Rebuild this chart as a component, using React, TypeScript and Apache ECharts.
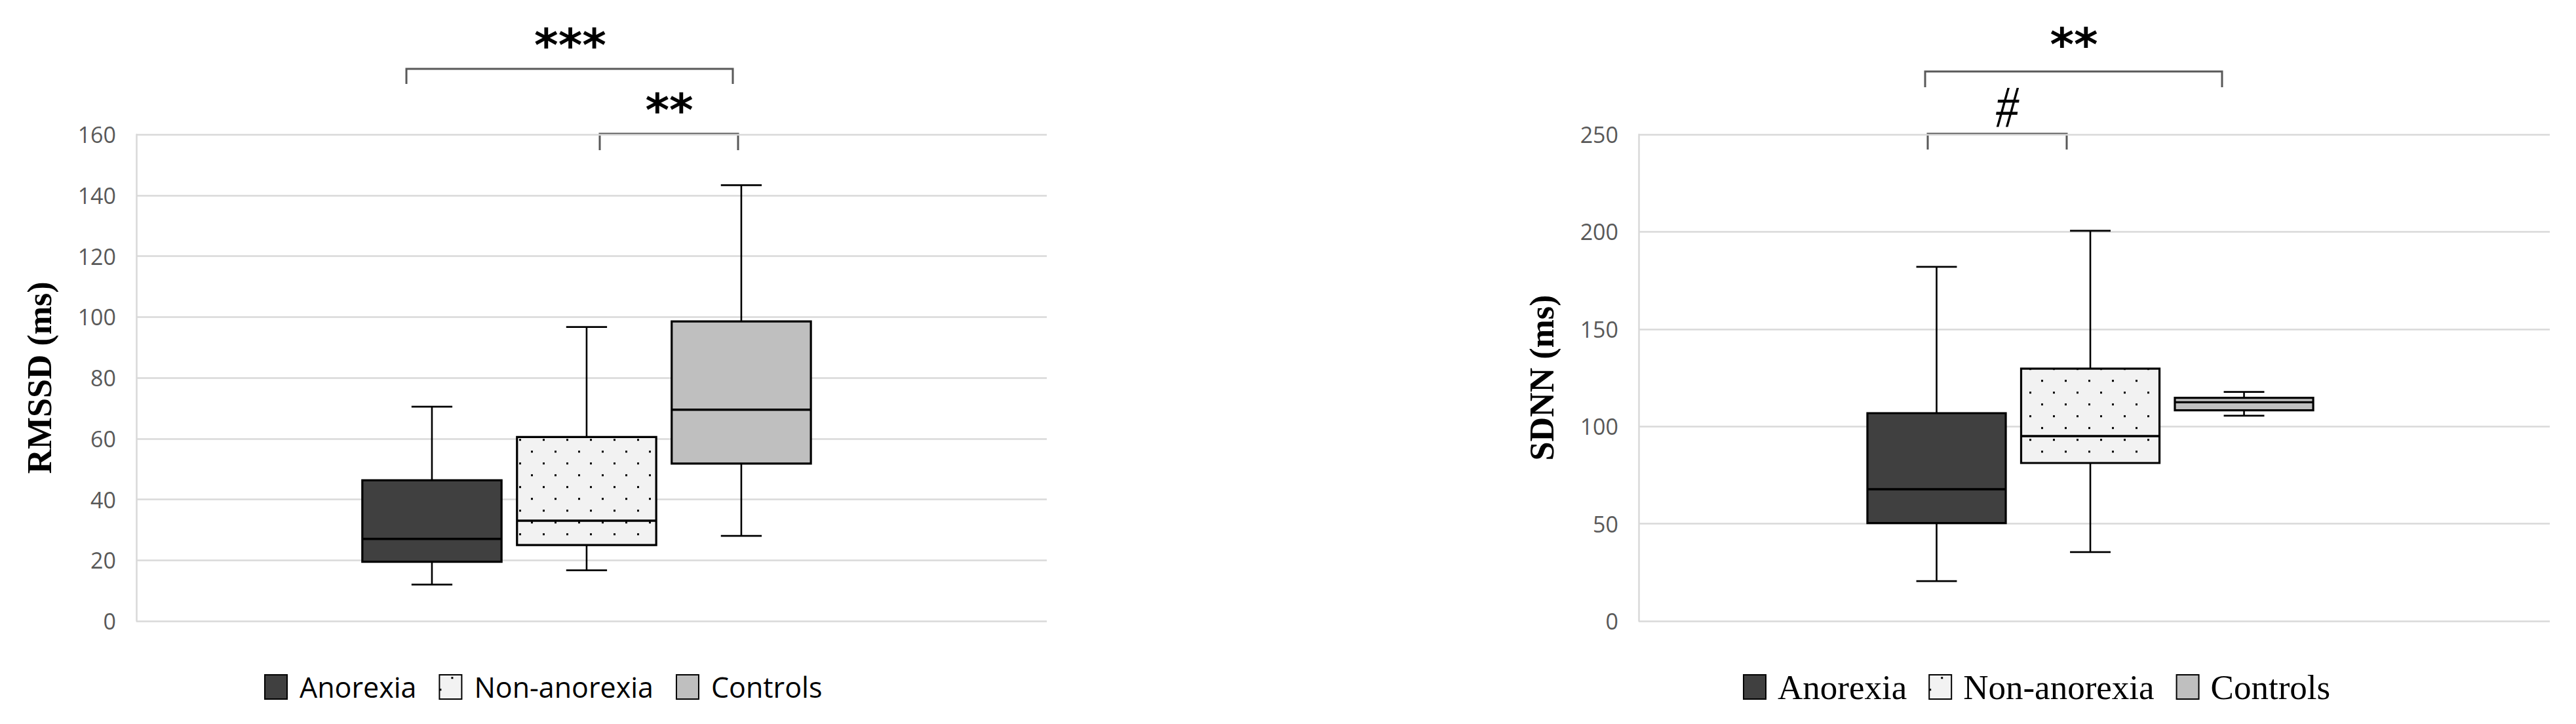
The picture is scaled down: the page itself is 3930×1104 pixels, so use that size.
import React, { useEffect, useRef } from 'react';
import * as echarts from 'echarts';

// ---------------- data ----------------
const groups = ['Anorexia', 'Non-anorexia', 'Controls'];
const groupPos = [1, 2, 3];
// five-number summaries: [min, Q1, median, Q3, max]
const rmssdAnorexia = [12, 19.5, 27, 46.3, 70.5];
const rmssdNonAnorexia = [16.7, 25, 33, 60.5, 96.7];
const rmssdControls = [28, 51.8, 69.5, 98.5, 143.3];
const sdnnAnorexia = [20.5, 50.3, 67.7, 106.8, 182];
const sdnnNonAnorexia = [35.4, 81.2, 95, 129.7, 200.5];
const sdnnControls = [105.5, 108.3, 112.4, 114.7, 117.7];
const rmssdAxis = { name: 'RMSSD (ms)', min: 0, max: 160, interval: 20 };
const sdnnAxis = { name: 'SDNN (ms)', min: 0, max: 250, interval: 50 };
const rmssdSigLabels = ['***', '**'];
const sdnnSigLabels = ['**', '#'];

// ---------------- styling ----------------
const BOX_W = 0.9;
const CAP_W = 0.264;
const GRID_LINE = '#d9d9d9';

function makeDotCanvas(): HTMLCanvasElement {
  const c = document.createElement('canvas');
  c.width = 36;
  c.height = 36;
  const ctx = c.getContext('2d') as CanvasRenderingContext2D;
  ctx.fillStyle = '#f2f2f2';
  ctx.fillRect(0, 0, 36, 36);
  ctx.fillStyle = '#000000';
  ctx.fillRect(18, 3.2, 3, 3);
  ctx.fillRect(0, 21.2, 3, 3);
  return c;
}

function makeRender(fill: any) {
  return (params: any, api: any) => {
    const x = api.value(0);
    const p = [1, 2, 3, 4, 5].map((i) => api.coord([x, api.value(i)]));
    const cx = p[0][0];
    const bw = api.size([BOX_W, 0])[0];
    const cw = api.size([CAP_W, 0])[0];
    const line = (x1: number, y1: number, x2: number, y2: number, w: number) => ({
      type: 'line',
      shape: { x1, y1, x2, y2 },
      style: { stroke: '#000', lineWidth: w },
    });
    return {
      type: 'group',
      children: [
        line(cx, p[4][1], cx, p[3][1], 2.6),
        line(cx, p[1][1], cx, p[0][1], 2.6),
        line(cx - cw / 2, p[4][1], cx + cw / 2, p[4][1], 2.8),
        line(cx - cw / 2, p[0][1], cx + cw / 2, p[0][1], 2.8),
        {
          type: 'rect',
          shape: { x: cx - bw / 2, y: p[3][1], width: bw, height: p[1][1] - p[3][1] },
          style: { fill, stroke: '#000', lineWidth: 3.2 },
        },
        line(cx - bw / 2, p[2][1], cx + bw / 2, p[2][1], 3.4),
      ],
    };
  };
}

function bracket(x1: number, x2: number, yTop: number, yEnd: number) {
  return {
    type: 'polyline',
    shape: { points: [[x1, yEnd], [x1, yTop], [x2, yTop], [x2, yEnd]] },
    style: { stroke: '#595959', lineWidth: 3, fill: 'none' },
    silent: true,
  };
}

function sigText(text: string, x: number, y: number, font: string, extra: any = {}) {
  return {
    type: 'text',
    x,
    y,
    style: { text, font, fill: '#000', textAlign: 'center', textVerticalAlign: 'middle' },
    silent: true,
    ...extra,
  };
}

export default function App() {
  const ref = useRef<HTMLDivElement>(null);
  useEffect(() => {
    if (!ref.current) return;
    const chart = echarts.init(ref.current, undefined, { renderer: 'svg' });
    const dotCanvas = makeDotCanvas();
    const dotPattern: any = { image: dotCanvas, repeat: 'repeat', imageWidth: 36, imageHeight: 36 };
    const fills = ['#404040', dotPattern, '#bfbfbf'];

    const yAxisBase = (ax: any, gridIndex: number) => ({
      type: 'value',
      gridIndex,
      min: ax.min,
      max: ax.max,
      interval: ax.interval,
      name: ax.name,
      nameLocation: 'middle',
      nameRotate: 90,
      nameGap: 122,
      nameTextStyle: { fontFamily: 'Liberation Serif', fontWeight: 'bold', fontSize: 52, color: '#000' },
      axisLine: { show: true, onZero: false, lineStyle: { color: GRID_LINE, width: 2.5 } },
      axisTick: { show: false },
      axisLabel: { fontFamily: 'Open Sans', fontSize: 34, color: '#595959', margin: 31 },
      splitLine: { show: true, lineStyle: { color: GRID_LINE, width: 2.5 } },
    });

    const leftSets = [rmssdAnorexia, rmssdNonAnorexia, rmssdControls];
    const rightSets = [sdnnAnorexia, sdnnNonAnorexia, sdnnControls];
    const series: any[] = [];
    [leftSets, rightSets].forEach((sets, gi) => {
      sets.forEach((vals, i) => {
        series.push({
          type: 'custom',
          name: groups[i],
          xAxisIndex: gi,
          yAxisIndex: gi,
          renderItem: makeRender(fills[i]),
          itemStyle: { color: fills[i], borderColor: '#000', borderWidth: 2.4 },
          encode: { x: 0, y: [1, 2, 3, 4, 5] },
          data: [[groupPos[i], ...vals]],
          silent: true,
        });
      });
    });

    const option: any = {
      animation: false,
      backgroundColor: '#ffffff',
      grid: [
        { left: 208, top: 205, width: 1389, height: 742 },
        { left: 2500, top: 205, width: 1390, height: 742 },
      ],
      xAxis: [
        { type: 'value', gridIndex: 0, min: -0.911, max: 4.975, show: false },
        { type: 'value', gridIndex: 1, min: -0.938, max: 4.989, show: false },
      ],
      yAxis: [yAxisBase(rmssdAxis, 0), yAxisBase(sdnnAxis, 1)],
      legend: [
        {
          left: 403,
          top: 1026,
          padding: 0,
          itemWidth: 34,
          itemHeight: 37,
          itemGap: 34,
          icon: 'rect',
          selectedMode: false,
          data: groups,
          textStyle: { fontFamily: 'Open Sans', fontSize: 43, color: '#000', padding: [0, 0, 0, 14] },
        },
        {
          left: 2659,
          top: 1021,
          padding: 0,
          itemWidth: 34,
          itemHeight: 37,
          itemGap: 33,
          icon: 'rect',
          selectedMode: false,
          data: groups,
          textStyle: { fontFamily: 'Liberation Serif', fontSize: 53, color: '#000', padding: [0, 0, 0, 13] },
        },
      ],
      graphic: [
        bracket(620, 1118, 105, 128),
        bracket(915, 1126, 204, 229),
        sigText(rmssdSigLabels[0], 870, 69, 'bold 70px "DejaVu Sans"'),
        sigText(rmssdSigLabels[1], 1021, 168, 'bold 70px "DejaVu Sans"'),
        bracket(2937, 3390, 109, 133),
        bracket(2941, 3153, 204, 228),
        sigText(sdnnSigLabels[0], 3164, 68, 'bold 70px "DejaVu Sans"'),
        sigText(sdnnSigLabels[1], 3062, 163, 'italic 90px "Liberation Serif"', { scaleX: 0.78 }),
      ],
      series,
    };
    chart.setOption(option);
    return () => chart.dispose();
  }, []);
  return (
    <div
      ref={ref}
      style={{ position: 'fixed', left: 0, top: 0, width: 3930, height: 1104, background: '#fff' }}
    />
  );
}
